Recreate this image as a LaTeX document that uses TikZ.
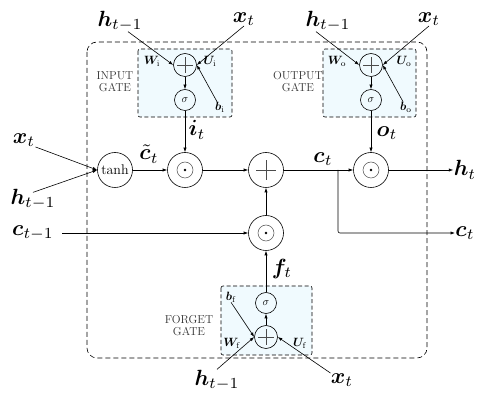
\documentclass[tikz,border=0pt]{standalone}
\usepackage{bm}
\usetikzlibrary{arrows.meta}
\begin{document}
\begin{tikzpicture}[x=1pt,y=-1pt,
  big/.style={scale=2.2, inner sep=0pt},
  mid/.style={scale=1.2, inner sep=0pt},
  gtxt/.style={font=\fontsize{11.5}{12}\selectfont, align=center, inner sep=0pt, text=black!80},
  op/.style={circle, draw, minimum size=35pt, inner sep=0pt, line width=0.6pt},
  gop/.style={circle, draw, minimum size=23pt, inner sep=0pt, line width=0.6pt},
  sig/.style={circle, draw, minimum size=21pt, inner sep=0pt, line width=0.6pt, font=\fontsize{11}{12}\selectfont},
  gatebox/.style={draw, dashed, dash pattern=on 4pt off 2.5pt, fill=cyan!6, line width=0.6pt, rounded corners=2pt},
  arr/.style={-{Latex[length=4.5pt,width=3.2pt]}, line width=0.6pt},
  sym/.style={line width=0.5pt, black!70}]
\useasboundingbox (0,0) rectangle (485,395);
% outer box
\draw[dashed, dash pattern=on 5pt off 3pt, line width=0.6pt, rounded corners=10pt] (87,42) rectangle (427,358);
% gate boxes
\draw[gatebox] (138,49) rectangle (232,117);
\draw[gatebox] (323,49) rectangle (416,117);
\draw[gatebox] (221,286) rectangle (312,355);
% gate labels
\node[gtxt] (ig) at (115,82) {INPUT\\GATE};
\node[gtxt] (og) at (298,82) {OUTPUT\\GATE};
\node[gtxt] (fg) at (189,326) {FORGET\\GATE};
% operators
\node[gop] (pi) at (185,65) {};
\node[sig] (si) at (185,100) {$\sigma$};
\node[gop] (po) at (371,65) {};
\node[sig] (so) at (371,100) {$\sigma$};
\node[sig] (sf) at (266,303) {$\sigma$};
\node[gop] (pf) at (266,337) {};
\node[op, font=\fontsize{14}{15}\selectfont] (th) at (115,170) {tanh};
\node[op] (oi) at (185,170) {};
\node[op] (pm) at (266,170) {};
\node[op] (of) at (266,233) {};
\node[op] (oo) at (371,170) {};
% symbols inside
\foreach \n in {pi,po,pf}{
  \draw[sym] ([xshift=-8pt]\n.center) -- ([xshift=8pt]\n.center);
  \draw[sym] ([yshift=-8pt]\n.center) -- ([yshift=8pt]\n.center);
}
\draw[sym] ([xshift=-10pt]pm.center) -- ([xshift=10pt]pm.center);
\draw[sym] ([yshift=-10pt]pm.center) -- ([yshift=10pt]pm.center);
\foreach \n in {oi,of,oo}{
  \draw[sym] (\n.center) circle (8pt);
  \fill (\n.center) circle (1.4pt);
}
% small labels
\node[mid] (wi) at (152,61) {$\bm{W}_{\mathrm{i}}$};
\node[mid] (ui) at (210,61) {$\bm{U}_{\mathrm{i}}$};
\node[mid] (bi) at (220,107) {$\bm{b}_{\mathrm{i}}$};
\node[mid] (wo) at (337,61) {$\bm{W}_{\mathrm{o}}$};
\node[mid] (uo) at (404,61) {$\bm{U}_{\mathrm{o}}$};
\node[mid] (bo) at (406,107) {$\bm{b}_{\mathrm{o}}$};
\node[mid] (bf) at (231,297) {$\bm{b}_{\mathrm{f}}$};
\node[mid] (wf) at (232,343) {$\bm{W}_{\mathrm{f}}$};
\node[mid] (uf) at (300,343) {$\bm{U}_{\mathrm{f}}$};
% big labels
\node[big] (h1) at (120,21) {$\bm{h}_{t-1}$};
\node[big] (x1) at (244,19) {$\bm{x}_t$};
\node[big] (h2) at (328,21) {$\bm{h}_{t-1}$};
\node[big] (x2) at (429,19) {$\bm{x}_t$};
\node[big] (xl) at (24,140) {$\bm{x}_t$};
\node[big] (hl) at (33,199) {$\bm{h}_{t-1}$};
\node[big] (cl) at (33,233) {$\bm{c}_{t-1}$};
\node[big] (ht) at (465,170) {$\bm{h}_t$};
\node[big] (ct) at (465,233) {$\bm{c}_t$};
\node[big] (hb) at (217,380) {$\bm{h}_{t-1}$};
\node[big] (xb) at (342,380) {$\bm{x}_t$};
\node[big] (tc) at (149,154) {$\tilde{\bm{c}}_t$};
\node[big] (it) at (197,130) {$\bm{i}_t$};
\node[big] (ot) at (387,133) {$\bm{o}_t$};
\node[big] (cm) at (323,159) {$\bm{c}_t$};
\node[big] (ft) at (282,269) {$\bm{f}_t$};
% gate inputs
\draw[arr] ([xshift=8pt]h1.south) -- (pi.west);
\draw[arr] (x1.south) -- (pi.east);
\draw[arr] ([xshift=-3pt]bi.north) -- (pi.east);
\draw[arr] ([xshift=-12pt]h2.south) -- (po.west);
\draw[arr] (x2.south) -- (po.east);
\draw[arr] ([xshift=-3pt]bo.north) -- (po.east);
\draw[arr] (bf.south) -- (pf.west);
\draw[arr] (hb.north) -- (pf.west);
\draw[arr] (xb.north west) -- (pf.east);
% gate internals
\draw[arr] (pi) -- (si);
\draw[arr] (si) -- (oi);
\draw[arr] (po) -- (so);
\draw[arr] (so) -- (oo);
\draw[arr] (pf) -- (sf);
\draw[arr] (sf) -- (of);
% main flow
\draw[arr] (xl.south east) -- (th.west);
\draw[arr] ([yshift=-4pt]hl.north) -- (th.west);
\draw[arr] (th) -- (oi);
\draw[arr] (oi) -- (pm);
\draw[arr] (of) -- (pm);
\draw[arr] ([xshift=8pt]cl.east) -- (of.west);
\draw[arr] (pm) -- (oo);
\draw[arr] (oo) -- (ht.west);
\coordinate (br) at (338,170);
\draw[arr, rounded corners=2pt] (br) |- (ct.west);
\end{tikzpicture}
\end{document}
